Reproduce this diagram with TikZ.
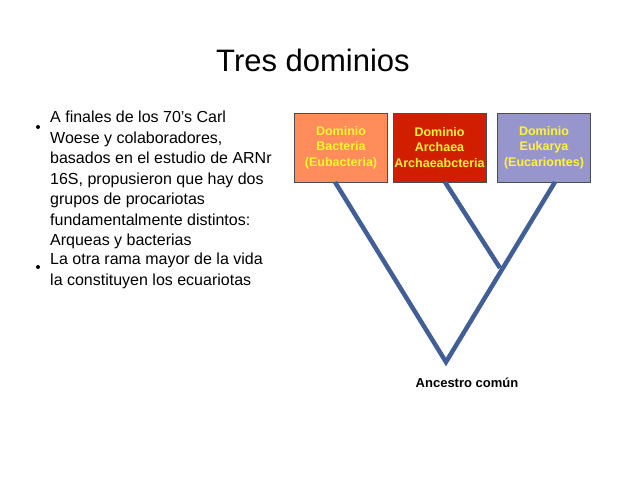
\documentclass[tikz,border=0pt]{standalone}
\usepackage{fontspec}
\setmainfont{Liberation Sans}
\begin{document}
\begin{tikzpicture}[x=1pt,y=-1pt,
 dom/.style={draw=black!70,minimum width=93pt,minimum height=69pt,inner sep=0pt,font=\bfseries\fontsize{12.5}{15.5}\selectfont,text=yellow!80!white,align=center},
 br/.style={draw={rgb,255:red,65;green,95;blue,150},line width=4.5pt},
 txt/.style={anchor=north west,align=left,inner sep=0pt,font=\fontsize{16}{20.5}\selectfont}]
\useasboundingbox (0,0) rectangle (638,479);
\node (t) at (313,60) {\fontsize{31}{36}\selectfont Tres dominios};
\node[dom,fill={rgb,255:red,255;green,140;blue,90}] (a) at (341,147.5) {Dominio\\Bacteria\\(Eubacteria)};
\node[dom,fill={rgb,255:red,210;green,30;blue,0}] (b) at (439.5,147.5) {Dominio\\Archaea\\Archaeabcteria};
\node[dom,fill={rgb,255:red,150;green,150;blue,205}] (c) at (544,147.5) {Dominio\\Eukarya\\(Eucariontes)};
\coordinate (r) at (446,362);
\coordinate (j) at (500,268);
\draw[br] (335,182) -- (r) -- (555,182);
\draw[br] (445,182) -- (j);
\node[font=\bfseries\fontsize{13}{15}\selectfont] (anc) at (467,383) {Ancestro común};
\node[txt] (l1) at (50,111) {A finales de los 70's Carl\\Woese y colaboradores,\\basados en el estudio de ARNr\\16S, propusieron que hay dos\\grupos de procariotas\\fundamentalmente distintos:\\Arqueas y bacterias};
\node[txt] (l2) at (50,253) {La otra rama mayor de la vida\\la constituyen los ecuariotas};
\fill (38,127) circle (2pt);
\fill (38,267) circle (2pt);
\end{tikzpicture}
\end{document}
